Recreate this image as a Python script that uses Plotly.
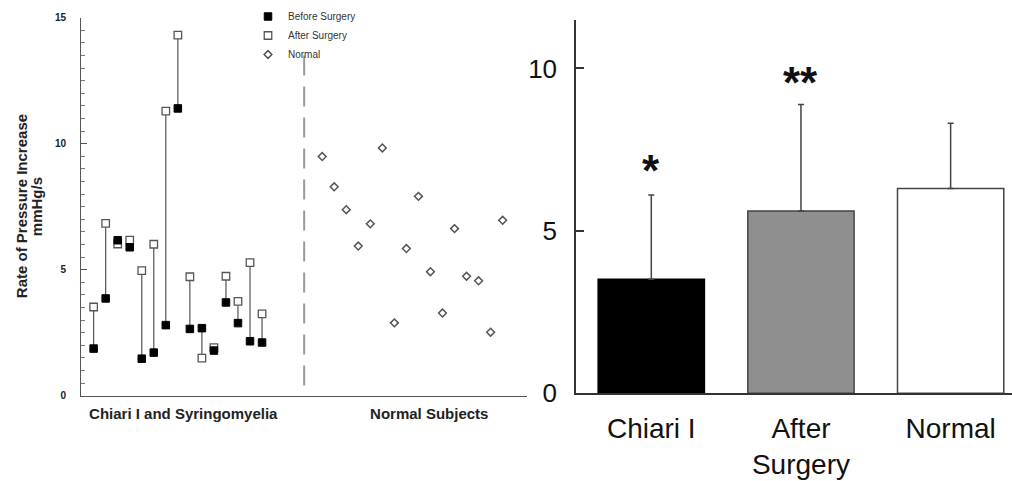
import plotly.graph_objects as go

# ---- Left panel data ----
chiari_idx = list(range(1, 16))
before_surgery = [1.87, 3.86, 6.17, 5.89, 1.47, 1.71, 2.80, 11.40, 2.65, 2.68, 1.79, 3.70, 2.88, 2.16, 2.11]
after_surgery = [3.52, 6.84, 6.02, 6.17, 4.96, 6.01, 11.29, 14.31, 4.72, 1.49, 1.91, 4.74, 3.74, 5.28, 3.25]
normal_idx = list(range(20, 36))
normal_values = [9.49, 8.29, 7.38, 5.94, 6.82, 9.83, 2.89, 5.84, 7.91, 4.92, 3.28, 6.63, 4.74, 4.56, 2.52, 6.96]
group_labels = ["Chiari I and Syringomyelia", "Normal Subjects"]

# ---- Right panel data ----
bar_categories = ["Chiari I", "After<br>Surgery", "Normal"]
bar_means = [3.51, 5.61, 6.30]
bar_sd = [2.59, 3.28, 2.01]
bar_stars = ["*", "**", ""]

FONT = "Liberation Sans, Arial, Helvetica, sans-serif"
fig = go.Figure()

# connecting lines
lx, ly = [], []
for xi, b, a in zip(chiari_idx, before_surgery, after_surgery):
    lx += [xi, xi, None]
    ly += [b, a, None]
fig.add_trace(go.Scatter(x=lx, y=ly, mode="lines", line=dict(color="#555555", width=1.2),
                         showlegend=False, hoverinfo="skip", xaxis="x", yaxis="y"))
# dashed separator
fig.add_trace(go.Scatter(x=[18.5, 18.5], y=[13.5, 0.2], mode="lines",
                         line=dict(color="#9a9a9a", width=2, dash="20px,11px"),
                         showlegend=False, hoverinfo="skip", xaxis="x", yaxis="y"))
fig.add_trace(go.Scatter(x=chiari_idx, y=after_surgery, mode="markers", name="After Surgery",
                         marker=dict(symbol="square", size=7.5, color="white",
                                     line=dict(color="#555555", width=1.3)),
                         legendrank=2, xaxis="x", yaxis="y"))
fig.add_trace(go.Scatter(x=chiari_idx, y=before_surgery, mode="markers", name="Before Surgery",
                         marker=dict(symbol="square", size=7.5, color="black",
                                     line=dict(color="black", width=1)),
                         legendrank=1, xaxis="x", yaxis="y"))
fig.add_trace(go.Scatter(x=normal_idx, y=normal_values, mode="markers", name="Normal",
                         marker=dict(symbol="diamond", size=6, color="white",
                                     line=dict(color="#555555", width=1.5)),
                         legendrank=3, xaxis="x", yaxis="y"))

# bars
fig.add_trace(go.Bar(x=[0, 1, 2], y=bar_means, width=0.71,
                     marker=dict(color=["black", "#8f8f8f", "white"],
                                 line=dict(color=["black", "#444444", "#444444"], width=1.5)),
                     error_y=dict(type="data", array=bar_sd, arrayminus=[0, 0, 0], symmetric=False,
                                  color="#444444", thickness=1.5, width=3),
                     showlegend=False, xaxis="x2", yaxis="y2"))

annotations = []
# left y-axis title
annotations.append(dict(text="<b>Rate of Pressure Increase</b>", x=21.7 / 1012, y=1 - 206.5 / 481,
                        xref="paper", yref="paper", textangle=-90, showarrow=False,
                        font=dict(family=FONT, size=15, color="#222222"),
                        xanchor="center", yanchor="middle"))
annotations.append(dict(text="<b>mmHg/s</b>", x=36.7 / 1012, y=1 - 206.5 / 481,
                        xref="paper", yref="paper", textangle=-90, showarrow=False,
                        font=dict(family=FONT, size=15, color="#222222"),
                        xanchor="center", yanchor="middle"))
star_y = [6.85, 9.56]
for i, s in enumerate(bar_stars):
    if s:
        annotations.append(dict(text="<b>" + s + "</b>", x=i, y=star_y[i], xref="x2", yref="y2",
                                showarrow=False, font=dict(family=FONT, size=44, color="#111111"),
                                xanchor="center", yanchor="middle"))

fig.update_layout(
    width=1012, height=481,
    margin=dict(l=0, r=0, t=0, b=0),
    paper_bgcolor="white", plot_bgcolor="white",
    font=dict(family=FONT, color="#222222"),
    showlegend=True,
    legend=dict(x=248 / 1012, y=1 - 2 / 481, xanchor="left", yanchor="top",
                font=dict(family=FONT, size=10, color="#333333"),
                bgcolor="rgba(0,0,0,0)", borderwidth=0, tracegroupgap=0),
    xaxis=dict(domain=[81 / 1012, 526.7 / 1012], range=[-0.05, 37.0], showgrid=False, zeroline=False,
               showline=True, linecolor="#555555", linewidth=1, ticks="", automargin=False,
               tickvals=[8.45, 28.9], ticktext=group_labels, ticklabelstandoff=4,
               tickfont=dict(family=FONT, size=15, color="#222222", weight="bold"), anchor="y"),
    yaxis=dict(domain=[1 - 395.7 / 481, 1 - 17.7 / 481], range=[0, 15], showgrid=False, zeroline=False,
               showline=True, linecolor="#555555", linewidth=1, ticks="inside", ticklen=6,
               tickcolor="#555555", tickvals=[0, 5, 10, 15], automargin=False,
               minor=dict(dtick=0.5, ticks="inside", ticklen=3.5, tickcolor="#777777", showgrid=False),
               ticklabelstandoff=12,
               tickfont=dict(family=FONT, size=10, color="#222222", weight="bold"), anchor="x"),
    xaxis2=dict(domain=[576 / 1012, 1.0], range=[-0.503, 2.41], showgrid=False, zeroline=False,
                showline=True, linecolor="#333333", linewidth=1.5, ticks="", automargin=False,
                tickvals=[0, 1, 2], ticktext=bar_categories, ticklabelstandoff=9,
                tickfont=dict(family=FONT, size=28, color="#111111"), anchor="y2"),
    yaxis2=dict(domain=[1 - 393.3 / 481, 1 - 20 / 481], range=[0, 11.49], showgrid=False, zeroline=False,
                showline=True, linecolor="#333333", linewidth=1.5, ticks="inside", ticklen=8,
                tickwidth=1.5, tickcolor="#333333", tickvals=[0, 5, 10], ticklabelstandoff=12,
                automargin=False,
                tickfont=dict(family=FONT, size=26, color="#111111"), anchor="x2"),
    annotations=annotations,
)

fig.write_html("out.html", config={"displayModeBar": False},
               post_script="document.body.style.margin='0';document.body.style.overflow='hidden';")
